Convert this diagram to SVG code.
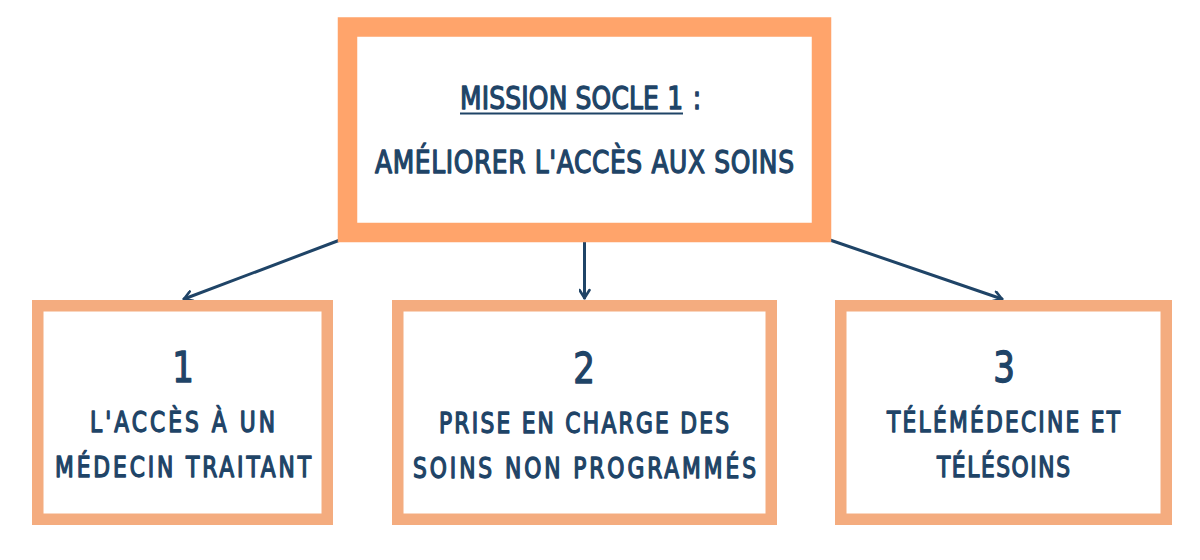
<svg xmlns="http://www.w3.org/2000/svg" width="1200" height="560" viewBox="0 0 1200 560">
<defs>
<style>
.t{font-family:"DejaVu Sans Condensed","DejaVu Sans",sans-serif;font-weight:normal;fill:#1f4467;stroke:#1f4467;stroke-width:1.3;stroke-linejoin:round;text-anchor:middle}
.l{font-size:27.5px}
.h{font-size:31.5px}
.n{font-size:43px}
.main{fill:#fff;stroke:#ffa46b;stroke-width:19.5}
.sub{fill:#fff;stroke:#f4ac7f;stroke-width:11.5}
.c{stroke:#1f4467;stroke-width:3;fill:none;stroke-linecap:round}
</style>
<marker id="ah" viewBox="0 0 12 12" refX="10" refY="6" markerWidth="12" markerHeight="12" markerUnits="userSpaceOnUse" orient="auto">
<path d="M2,1 L10,6 L2,11" fill="none" stroke="#1f4467" stroke-width="2.6" stroke-linecap="round" stroke-linejoin="round"/>
</marker>
</defs>
<rect width="1200" height="560" fill="#fff"/>
<g id="connectors">
<line class="c" x1="340" y1="240" x2="184" y2="299" marker-end="url(#ah)"/>
<line class="c" x1="584.5" y1="242" x2="584.5" y2="298" marker-end="url(#ah)"/>
<line class="c" x1="830" y1="240" x2="1002" y2="299" marker-end="url(#ah)"/>
</g>
<g id="mission">
<rect class="main" x="347.5" y="27" width="474" height="205.5"/>
<g transform="scale(0.88 1)">
<text class="t h" x="649.43" y="109" textLength="253.41" lengthAdjust="spacing">MISSION SOCLE 1</text>
<text class="t h" x="792.05" y="109">:</text>
<text class="t h" x="664.2" y="173" textLength="476.14" lengthAdjust="spacing">AMÉLIORER L'ACCÈS AUX SOINS</text>
</g>
<line x1="460" y1="113.5" x2="683" y2="113.5" stroke="#1f4467" stroke-width="2.2"/>
</g>
<g id="node1">
<rect class="sub" x="37.75" y="305.75" width="289.5" height="213.5"/>
<g transform="scale(0.88 1)">
<text class="t n" x="207.95" y="382">1</text>
<text class="t l" x="207.39" y="432" textLength="210.23" lengthAdjust="spacing">L'ACCÈS À UN</text>
<text class="t l" x="207.95" y="477" textLength="290.91" lengthAdjust="spacing">MÉDECIN TRAITANT</text>
</g>
</g>
<g id="node2">
<rect class="sub" x="397.75" y="305.75" width="373.5" height="213.5"/>
<g transform="scale(0.88 1)">
<text class="t n" x="663.64" y="383">2</text>
<text class="t l" x="663.64" y="433" textLength="329.55" lengthAdjust="spacing">PRISE EN CHARGE DES</text>
<text class="t l" x="664.2" y="478" textLength="389.77" lengthAdjust="spacing">SOINS NON PROGRAMMÉS</text>
</g>
</g>
<g id="node3">
<rect class="sub" x="840.75" y="305.75" width="325.5" height="213.5"/>
<g transform="scale(0.88 1)">
<text class="t n" x="1140.91" y="382">3</text>
<text class="t l" x="1140.34" y="432" textLength="264.77" lengthAdjust="spacing">TÉLÉMÉDECINE ET</text>
<text class="t l" x="1140.34" y="477" textLength="151.14" lengthAdjust="spacing">TÉLÉSOINS</text>
</g>
</g>
</svg>
